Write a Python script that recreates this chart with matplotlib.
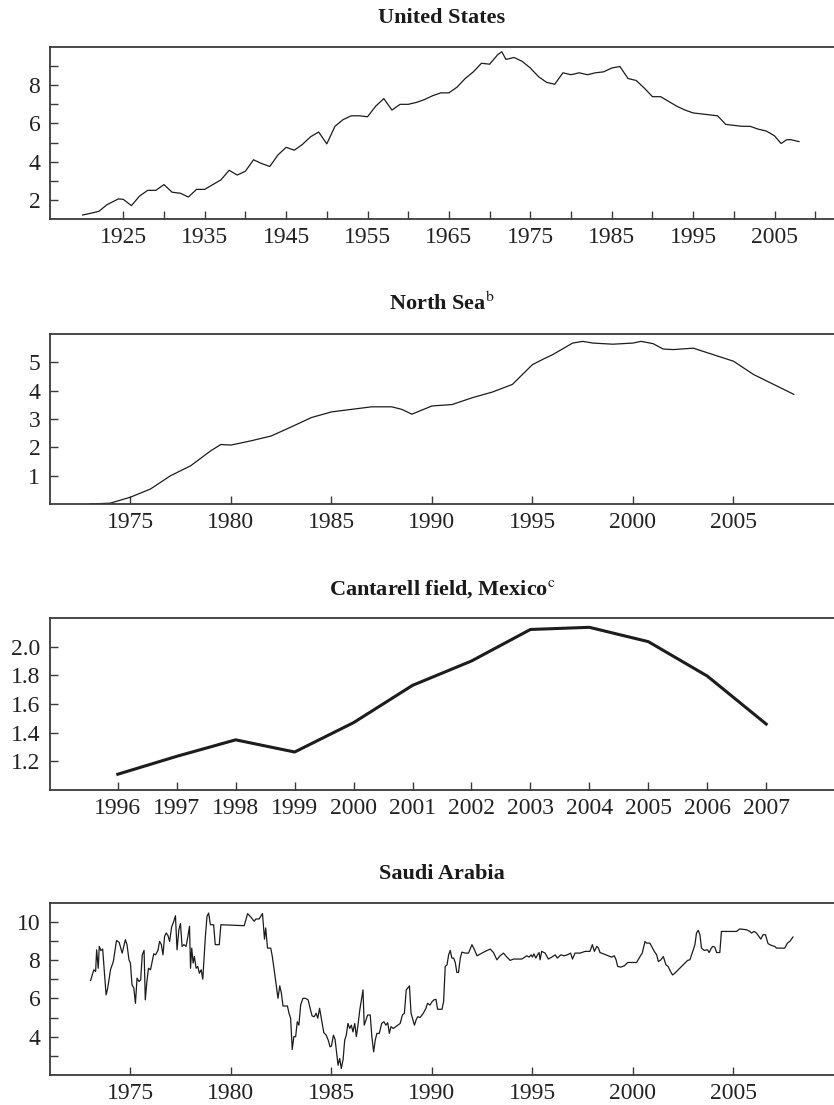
import numpy as np
import matplotlib.pyplot as plt
from matplotlib.ticker import FixedLocator, FormatStrFormatter

plt.rcParams['font.family'] = ['Liberation Serif', 'DejaVu Serif']
plt.rcParams['mathtext.fontset'] = 'stix'

# United States crude oil production, million barrels per day
us_year = [1920, 1921, 1922, 1923, 1924.4, 1925, 1926, 1927, 1928, 1929, 1930,
           1931, 1932, 1933, 1934, 1935, 1936, 1937, 1938, 1939, 1940, 1941,
           1942, 1943, 1944, 1945, 1946, 1947, 1948, 1949, 1950, 1951, 1952,
           1953, 1954, 1955, 1956, 1957, 1958, 1959, 1960, 1961, 1962, 1963,
           1964, 1965, 1966, 1967, 1968, 1969, 1970, 1971, 1971.5, 1972, 1973,
           1974, 1975, 1976, 1977, 1978, 1979, 1980, 1981, 1982, 1983, 1984,
           1985, 1986, 1987, 1988, 1989, 1990, 1991, 1992, 1993, 1994, 1995,
           1996, 1997, 1998, 1999, 2000, 2001, 2002, 2003, 2004, 2005, 2005.8,
           2006.5, 2007, 2008]
us_value = [1.21, 1.3, 1.4, 1.75, 2.05, 2.03, 1.7, 2.2, 2.5, 2.5, 2.8,
            2.4, 2.35, 2.15, 2.55, 2.55, 2.8, 3.05, 3.55, 3.3, 3.5, 4.1,
            3.9, 3.75, 4.35, 4.75, 4.6, 4.9, 5.3, 5.55, 4.93, 5.85, 6.2,
            6.4, 6.4, 6.35, 6.9, 7.3, 6.7, 7.0, 7.0, 7.1, 7.25, 7.45,
            7.6, 7.6, 7.9, 8.35, 8.7, 9.15, 9.1, 9.6, 9.75, 9.35, 9.45,
            9.25, 8.9, 8.45, 8.15, 8.05, 8.65, 8.55, 8.65, 8.55, 8.65, 8.7,
            8.9, 8.98, 8.35, 8.25, 7.85, 7.4, 7.4, 7.15, 6.9, 6.7, 6.55,
            6.5, 6.45, 6.4, 5.95, 5.9, 5.85, 5.85, 5.7, 5.6, 5.35, 4.95,
            5.15, 5.15, 5.05]

# North Sea
ns_year = [1973, 1974, 1975, 1976, 1977, 1978, 1979, 1979.5, 1980, 1981, 1982,
           1983, 1984, 1985, 1986, 1987, 1988, 1988.5, 1989, 1990, 1991, 1992,
           1993, 1994, 1995, 1995.5, 1996, 1997, 1997.5, 1998, 1999, 2000,
           2000.4, 2001, 2001.5, 2002, 2003, 2004, 2005, 2006, 2007, 2008]
ns_value = [0.0, 0.03, 0.24, 0.53, 1.0, 1.35, 1.88, 2.1, 2.08, 2.23, 2.4,
            2.72, 3.05, 3.25, 3.34, 3.43, 3.43, 3.34, 3.17, 3.46, 3.51, 3.75,
            3.95, 4.22, 4.92, 5.1, 5.27, 5.68, 5.74, 5.68, 5.64, 5.68,
            5.74, 5.66, 5.47, 5.45, 5.5, 5.27, 5.04, 4.57, 4.22, 3.87]

# Cantarell field, Mexico
cant_year = [1996, 1997, 1998, 1999, 2000, 2001, 2002, 2003, 2004, 2005, 2006, 2007]
cant_value = [1.11, 1.235, 1.35, 1.265, 1.47, 1.73, 1.9, 2.12, 2.135, 2.035, 1.795, 1.46]

# Saudi Arabia (monthly)
sa_year = [
    1973.02, 1973.18, 1973.27, 1973.32, 1973.40, 1973.45, 1973.53, 1973.62,
    1973.79, 1973.87, 1974.01, 1974.15, 1974.31, 1974.44, 1974.59, 1974.75,
    1974.83, 1974.93, 1975.00, 1975.08, 1975.17, 1975.25, 1975.33, 1975.43,
    1975.51, 1975.59, 1975.68, 1975.74, 1975.82, 1975.90, 1976.00, 1976.16,
    1976.25, 1976.37, 1976.45, 1976.54, 1976.62, 1976.70, 1976.78, 1976.87,
    1976.95, 1977.05, 1977.16, 1977.24, 1977.32, 1977.41, 1977.49, 1977.57,
    1977.66, 1977.77, 1977.86, 1977.94, 1977.99, 1978.05, 1978.12, 1978.18,
    1978.27, 1978.35, 1978.43, 1978.52, 1978.60, 1978.73, 1978.81, 1978.89,
    1978.98, 1979.14, 1979.22, 1979.42, 1979.50, 1980.66, 1980.83, 1980.99,
    1981.16, 1981.24, 1981.40, 1981.57, 1981.67, 1981.73, 1981.82, 1981.98,
    1982.06, 1982.22, 1982.34, 1982.43, 1982.51, 1982.59, 1982.81, 1982.89,
    1982.97, 1983.05, 1983.13, 1983.22, 1983.30, 1983.38, 1983.47, 1983.58,
    1983.71, 1983.84, 1983.96, 1984.04, 1984.14, 1984.24, 1984.32, 1984.41,
    1984.51, 1984.62, 1984.74, 1984.84, 1984.93, 1985.00, 1985.10, 1985.18,
    1985.26, 1985.33, 1985.41, 1985.49, 1985.58, 1985.66, 1985.74, 1985.82,
    1985.91, 1985.99, 1986.07, 1986.16, 1986.24, 1986.32, 1986.41, 1986.49,
    1986.57, 1986.63, 1986.72, 1986.80, 1986.93, 1987.01, 1987.10, 1987.18,
    1987.26, 1987.38, 1987.50, 1987.61, 1987.71, 1987.80, 1987.88, 1987.96,
    1988.08, 1988.24, 1988.42, 1988.53, 1988.63, 1988.72, 1988.88, 1988.96,
    1989.05, 1989.13, 1989.21, 1989.29, 1989.41, 1989.57, 1989.70, 1989.78,
    1989.90, 1990.01, 1990.10, 1990.20, 1990.28, 1990.50, 1990.58, 1990.66,
    1990.75, 1990.83, 1990.91, 1990.99, 1991.08, 1991.16, 1991.24, 1991.32,
    1991.41, 1991.49, 1991.66, 1991.82, 1991.99, 1992.10, 1992.24, 1992.40,
    1992.65, 1992.90, 1993.06, 1993.23, 1993.39, 1993.56, 1993.73, 1993.89,
    1994.06, 1994.47, 1994.72, 1994.83, 1994.93, 1995.00, 1995.07, 1995.17,
    1995.25, 1995.33, 1995.38, 1995.46, 1995.63, 1995.79, 1995.96, 1996.13,
    1996.24, 1996.41, 1996.57, 1996.74, 1996.90, 1996.99, 1997.12, 1997.37,
    1997.62, 1997.86, 1997.98, 1998.08, 1998.20, 1998.28, 1998.36, 1998.53,
    1998.77, 1998.94, 1999.07, 1999.16, 1999.24, 1999.40, 1999.57, 1999.74,
    2000.18, 2000.35, 2000.46, 2000.60, 2000.68, 2000.84, 2000.93, 2001.06,
    2001.18, 2001.26, 2001.39, 2001.51, 2001.64, 2001.75, 2001.87, 2001.97,
    2002.05, 2002.25, 2002.50, 2002.72, 2002.83, 2003.00, 2003.08, 2003.16,
    2003.25, 2003.33, 2003.41, 2003.54, 2003.71, 2003.79, 2003.87, 2003.96,
    2004.07, 2004.16, 2004.32, 2004.40, 2005.15, 2005.31, 2005.65, 2005.81,
    2005.89, 2006.03, 2006.14, 2006.26, 2006.36, 2006.47, 2006.59, 2006.72,
    2006.89, 2007.05, 2007.14, 2007.55, 2007.68, 2007.80, 2007.88, 2007.96,
]
sa_value = [
    6.93, 7.49, 7.40, 8.53, 7.57, 8.71, 8.50, 8.57,
    6.18, 6.53, 7.49, 7.92, 9.02, 8.92, 8.36, 9.06,
    8.80, 8.01, 7.84, 6.70, 6.53, 5.74, 7.05, 6.88,
    6.96, 8.27, 8.50, 5.92, 6.88, 7.57, 7.49, 8.32,
    8.27, 8.50, 8.97, 8.80, 8.27, 9.23, 9.41, 9.27,
    8.97, 9.72, 10.02, 10.31, 8.53, 9.58, 9.90, 8.71,
    8.80, 8.71, 9.23, 9.76, 7.57, 8.62, 7.84, 8.18,
    7.57, 7.66, 7.31, 7.49, 7.00, 9.23, 10.28, 10.45,
    9.84, 9.84, 8.80, 8.80, 9.84, 9.79, 10.42, 10.24,
    10.02, 10.14, 10.14, 10.42, 9.09, 9.67, 8.62, 8.62,
    8.18, 6.96, 6.00, 6.65, 6.27, 5.60, 5.60, 5.22,
    4.96, 3.33, 4.00, 4.00, 4.78, 4.60, 5.65, 6.00,
    6.00, 5.92, 5.39, 5.08, 5.04, 5.22, 4.96, 5.48,
    4.87, 4.21, 4.08, 3.82, 3.47, 3.51, 4.08, 3.86,
    3.12, 2.51, 2.86, 2.34, 2.81, 3.82, 4.08, 4.69,
    4.43, 4.60, 4.25, 4.69, 4.00, 4.60, 5.39, 5.92,
    6.44, 4.60, 4.87, 5.13, 5.13, 4.00, 3.21, 3.82,
    4.17, 4.17, 4.69, 4.78, 4.60, 4.73, 4.17, 4.52,
    4.43, 4.55, 4.69, 5.13, 5.22, 6.44, 6.65, 5.22,
    4.90, 4.60, 4.87, 5.04, 5.00, 5.22, 5.48, 5.74,
    5.65, 5.83, 5.92, 5.95, 5.43, 5.43, 5.83, 7.66,
    7.75, 8.27, 8.50, 8.10, 8.10, 7.87, 7.35, 7.35,
    8.10, 8.41, 8.36, 8.36, 8.80, 8.57, 8.22, 8.31,
    8.45, 8.57, 8.39, 8.01, 8.22, 8.36, 8.15, 7.98,
    8.05, 8.05, 8.22, 8.15, 8.27, 8.15, 8.32, 8.10,
    8.27, 8.39, 8.01, 8.45, 8.36, 8.05, 8.15, 8.27,
    8.10, 8.27, 8.22, 8.27, 8.36, 8.05, 8.36, 8.36,
    8.45, 8.45, 8.80, 8.45, 8.71, 8.62, 8.39, 8.32,
    8.22, 8.15, 8.22, 8.01, 7.66, 7.63, 7.70, 7.87,
    7.87, 8.18, 8.36, 8.97, 8.88, 8.88, 8.71, 8.45,
    8.27, 7.92, 8.01, 8.18, 7.75, 7.66, 7.40, 7.22,
    7.28, 7.49, 7.75, 7.98, 8.01, 8.53, 8.80, 9.41,
    9.55, 9.32, 8.62, 8.50, 8.53, 8.39, 8.57, 8.71,
    8.67, 8.39, 8.39, 9.49, 9.49, 9.62, 9.58, 9.49,
    9.41, 9.49, 9.41, 9.23, 9.09, 9.32, 9.32, 8.85,
    8.76, 8.71, 8.62, 8.62, 8.88, 8.97, 9.09, 9.20,
]

ink = '#1c1c1c'
spine_col = '#3a3a3a'
title_kw = dict(fontsize=16, fontweight='bold', pad=17, color='#1a1a1a')


def style_axes(ax):
    ax.spines['right'].set_visible(False)
    for side in ['left', 'top', 'bottom']:
        ax.spines[side].set_color(spine_col)
        ax.spines[side].set_linewidth(1.3)
    ax.tick_params(which='both', direction='in', length=6, width=1.0,
                   color=spine_col, labelsize=17, labelcolor='#222222')
    ax.tick_params(axis='x', which='both', pad=6)
    ax.tick_params(axis='y', which='both', pad=7)
    ax.tick_params(top=False, right=False)


fig = plt.figure(figsize=(8.34, 11.05), dpi=100)
left = 50 / 834
width = 1 - left

# United States
ax1 = fig.add_axes([left, 1 - 219 / 1105, width, 172 / 1105])
ax1.plot(us_year, us_value, color=ink, lw=0.9)
ax1.set_xlim(1916, 2012.3)
ax1.set_ylim(1, 10)
ax1.xaxis.set_major_locator(FixedLocator(np.arange(1925, 2006, 10)))
ax1.xaxis.set_minor_locator(FixedLocator(np.arange(1930, 2011, 10)))
ax1.yaxis.set_major_locator(FixedLocator([2, 4, 6, 8]))
ax1.yaxis.set_minor_locator(FixedLocator([3, 5, 7, 9]))
style_axes(ax1)
ax1.set_title('United States', **title_kw)

# North Sea
ax2 = fig.add_axes([left, 1 - 504 / 1105, width, 170 / 1105])
ax2.plot(ns_year, ns_value, color=ink, lw=0.9)
ax2.set_xlim(1971, 2010)
ax2.set_ylim(0, 6)
ax2.xaxis.set_major_locator(FixedLocator(np.arange(1975, 2006, 5)))
ax2.yaxis.set_major_locator(FixedLocator([1, 2, 3, 4, 5]))
style_axes(ax2)
ax2.set_title(r'North Sea$^{\rm b}$', **title_kw)

# Cantarell field
ax3 = fig.add_axes([left, 1 - 790 / 1105, width, 172 / 1105])
ax3.plot(cant_year, cant_value, color=ink, lw=2.2)
ax3.set_xlim(1994.85, 2008.15)
ax3.set_ylim(1.0, 2.2)
ax3.xaxis.set_major_locator(FixedLocator(np.arange(1996, 2008)))
ax3.yaxis.set_major_locator(FixedLocator([1.2, 1.4, 1.6, 1.8, 2.0]))
ax3.yaxis.set_major_formatter(FormatStrFormatter('%.1f'))
style_axes(ax3)
ax3.set_title(r'Cantarell field, Mexico$^{\rm c}$', **title_kw)

# Saudi Arabia
ax4 = fig.add_axes([left, 1 - 1075 / 1105, width, 172.5 / 1105])
ax4.plot(sa_year, sa_value, color=ink, lw=0.9)
ax4.set_xlim(1971, 2010)
ax4.set_ylim(2, 11)
ax4.xaxis.set_major_locator(FixedLocator(np.arange(1975, 2006, 5)))
ax4.yaxis.set_major_locator(FixedLocator([4, 6, 8, 10]))
ax4.yaxis.set_minor_locator(FixedLocator([3, 5, 7, 9]))
style_axes(ax4)
ax4.set_title('Saudi Arabia', **title_kw)

fig.savefig('out.png', dpi=100)
